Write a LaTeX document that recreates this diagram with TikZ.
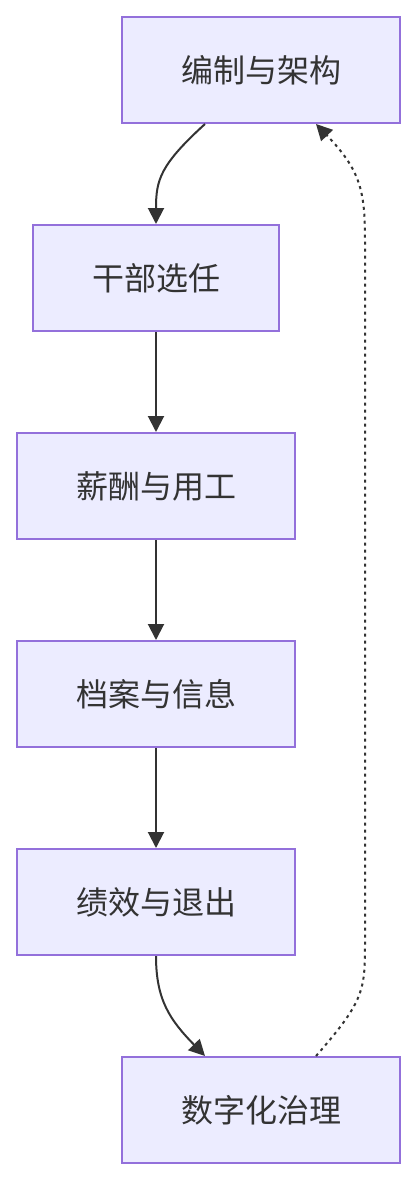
\documentclass[tikz,border=0pt]{standalone}
\usepackage{fontspec}
\newfontfamily\cjk{Noto Sans CJK SC}
\usetikzlibrary{arrows.meta}
\definecolor{boxfill}{HTML}{ECECFF}
\definecolor{boxline}{HTML}{9370DB}
\definecolor{ink}{HTML}{333333}
\tikzset{
    stage/.style={draw=boxline, fill=boxfill, line width=2pt, minimum width=278pt,
        minimum height=106pt, inner sep=0pt, text=ink, font=\cjk\fontsize{32}{36}\selectfont},
    link/.style={draw=ink, line width=2pt, -{Triangle[length=16pt,width=16pt]}},
    backlink/.style={link, dash pattern=on 3pt off 4pt}
}
\begin{document}
\begin{tikzpicture}[x=1pt, y=-1pt]

    \useasboundingbox (0,0) rectangle (417,1180);

    % Boxes
    \node[stage] (bianzhi) at (261,70) {编制与架构};
    \node[stage, minimum width=246pt] (xuanren) at (156,278) {干部选任};
    \node[stage] (xinchou) at (156,486) {薪酬与用工};
    \node[stage] (dangan) at (156,694) {档案与信息};
    \node[stage] (jixiao) at (156,902) {绩效与退出};
    \node[stage] (shuzi) at (261,1110) {数字化治理};

    % Curved links
    \draw[link] ([xshift=-56pt]bianzhi.south)
        .. controls (160,165) and (156,180) .. (xuanren.north);
    \draw[link] (jixiao.south)
        .. controls (156,1000) and (170,1020) .. ([xshift=-56pt]shuzi.north);

    % Straight links
    \draw[link] (xuanren) -- (xinchou);
    \draw[link] (xinchou) -- (dangan);
    \draw[link] (dangan) -- (jixiao);

    % Dashed link back to the top
    \draw[backlink] ([xshift=55pt]shuzi.north)
        .. controls (365,1000) and (365,990) .. (365,940)
        -- (365,240)
        .. controls (365,190) and (360,170) .. ([xshift=55pt]bianzhi.south);

\end{tikzpicture}
\end{document}
